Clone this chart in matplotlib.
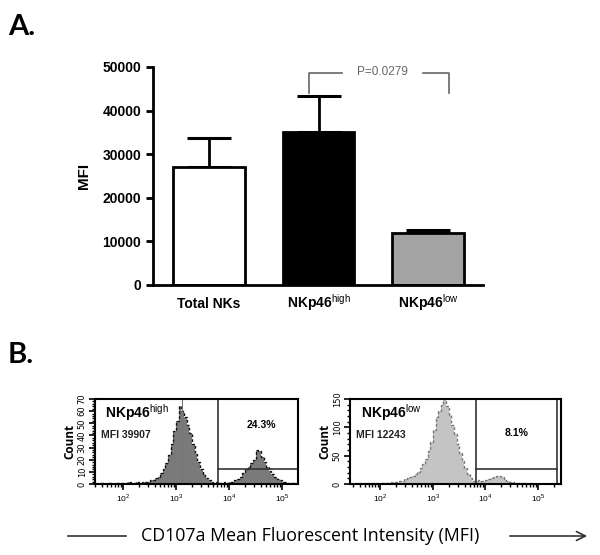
import numpy as np
import matplotlib
matplotlib.use("Agg")
import matplotlib.pyplot as plt
import matplotlib.transforms as mtrans

plt.rcParams['mathtext.fontset'] = 'custom'
plt.rcParams['mathtext.rm'] = 'Liberation Sans'
plt.rcParams['mathtext.bf'] = 'Liberation Sans:bold'

# panel A data
groups = ['Total NKs', r'NKp46$^{\rm high}$', r'NKp46$^{\rm low}$']
mfi_mean = [27000, 35000, 11900]
mfi_err = [6700, 8300, 700]
bar_colors = ['white', 'black', '#a3a3a3']
p_text = 'P=0.0279'

# panel B histograms (counts per log10 bin, bins 0.05 wide from 10^1.45)
hi_counts = [1, 0, 1, 1, 0, 1, 1, 0, 1, 1, 1, 1, 1, 2, 1, 1,
             2, 1, 2, 2, 2, 3, 3, 5, 6, 9, 12, 17, 24, 33, 44, 52, 64, 60, 55, 49,
             42, 33, 25, 18, 12, 8, 5, 3, 2, 1, 2, 1, 1, 2, 1, 2, 2, 3, 4, 6,
             9, 12, 14, 17, 20, 28, 27, 22, 18, 14, 11, 8, 6, 4, 3, 2, 2, 1, 1, 1, 0]
lo_counts = [0, 1, 0, 1, 1, 0, 1, 1, 1, 1, 2, 1, 2, 2, 2, 3,
             3, 4, 5, 6, 8, 10, 12, 15, 18, 22, 28, 35, 45, 58, 75, 95, 118, 128, 140, 150,
             138, 122, 105, 88, 70, 55, 40, 28, 18, 10, 6, 5, 7, 6, 5, 7, 9, 11, 13, 15,
             14, 12, 9, 6, 4, 3, 2, 2, 1, 1, 1, 0, 1, 0, 0, 0, 0, 0, 0, 0, 0]
hi_label = r'NKp46$^{\rm high}$'
lo_label = r'NKp46$^{\rm low}$'
hi_mfi = 'MFI 39907'
lo_mfi = 'MFI 12243'
hi_pct = '24.3%'
lo_pct = '8.1%'

W, H = 600, 555
fig = plt.figure(figsize=(6, 5.55), dpi=100)


def box(l, t, r, b):
    return [l / W, 1 - b / H, (r - l) / W, (b - t) / H]


# ---------------- panel A
ax = fig.add_axes(box(153, 67, 483, 285))
x = np.arange(len(groups))
ax.bar(x, mfi_mean, width=0.655, color=bar_colors, edgecolor='black', linewidth=2, zorder=2)
ax.errorbar(x, mfi_mean, yerr=[np.zeros(3), mfi_err], fmt='none', ecolor='black',
            elinewidth=2, capsize=15.5, capthick=2.2, zorder=1)
ax.set_xlim(-0.51, 2.5)
ax.set_ylim(0, 50000)
ax.set_yticks([0, 10000, 20000, 30000, 40000, 50000])
ax.set_xticks(x)
ax.set_xticklabels([])
for s in ['top', 'right']:
    ax.spines[s].set_visible(False)
for s in ['left', 'bottom']:
    ax.spines[s].set_linewidth(2)
ax.tick_params(axis='y', width=2, length=5, labelsize=10)
ax.tick_params(axis='x', length=0)
for lab in ax.get_yticklabels():
    lab.set_fontweight('bold')
    lab.set_family('Liberation Sans')
tr = mtrans.blended_transform_factory(ax.transData, ax.transAxes)
for xi, g in zip(x, groups):
    ax.text(xi, -0.105, g, transform=tr, ha='center', va='baseline', fontsize=10,
            fontweight='bold', family='Liberation Sans')
ax.set_ylabel('MFI', fontsize=11, fontweight='bold', family='Liberation Sans', labelpad=8)

# significance bracket
bc = '#666666'
ax.plot([0.917, 0.917, 1.21], [44000, 48600, 48600], color=bc, lw=1.2, clip_on=False)
ax.plot([1.95, 2.19, 2.19], [48600, 48600, 44000], color=bc, lw=1.2, clip_on=False)
ax.text(1.58, 48800, p_text, ha='center', va='center', fontsize=8.5, color=bc,
        family='Liberation Sans')

fig.text(8 / W, 1 - 27 / H, 'A.', fontsize=21, fontweight='bold', family='Lato', va='center')
fig.text(8 / W, 1 - 355 / H, 'B.', fontsize=21, fontweight='bold', family='Lato', va='center')

# ---------------- panel B
def histpanel(rect, counts, xlo, xhi, ymax, ymaj, ymin, fill, edge, label, mfi, pct,
              gate_x, gate_y, right_line, peak_line, pct_xy):
    a = fig.add_axes(rect)
    edges = 10 ** (1.45 + 0.05 * np.arange(len(counts) + 1))
    a.stairs(counts, edges, fill=True, color=fill, zorder=1)
    a.stairs(counts, edges, color=edge, lw=1.0, ls=(0, (2, 1.5)), zorder=2)
    a.set_xscale('log')
    a.set_xlim(10 ** xlo, 10 ** xhi)
    a.set_ylim(0, ymax)
    a.set_xticks([1e2, 1e3, 1e4, 1e5])
    a.set_xticklabels([r'$10^2$', r'$10^3$', r'$10^4$', r'$10^5$'])
    a.set_yticks(np.arange(0, ymax + 1, ymaj))
    a.set_yticks(np.arange(0, ymax + 1, ymin), minor=True)
    for lab in a.get_yticklabels():
        lab.set_rotation(90)
        lab.set_va('center')
    a.tick_params(axis='both', which='major', length=4, width=1.2, labelsize=6, pad=2)
    a.tick_params(axis='both', which='minor', length=2.5, width=1)
    for s in a.spines.values():
        s.set_linewidth(1.5)
    a.set_ylabel('Count', fontsize=8.5, labelpad=1, family='Open Sans', fontweight='bold')
    a.axvline(10 ** gate_x, color='#333333', lw=1.2)
    a.plot([10 ** gate_x, 10 ** right_line], [gate_y, gate_y], color='#333333', lw=1.2)
    if right_line < xhi - 0.01:
        a.axvline(10 ** right_line, color='#333333', lw=1.2)
    if peak_line is not None:
        a.axvline(10 ** peak_line, color='#777777', lw=0.8)
    a.text(0.05, 0.84, label, transform=a.transAxes, fontsize=10, fontweight='bold',
           family='Liberation Sans', va='center')
    a.text(0.03, 0.58, mfi, transform=a.transAxes, fontsize=7.5, fontweight='bold',
           family='Liberation Sans', va='center', color='#222222')
    a.text(pct_xy[0], pct_xy[1], pct, transform=a.transAxes, fontsize=7.5, fontweight='bold',
           family='Liberation Sans', ha='center', va='center')
    return a


histpanel(box(95, 399, 298, 484), hi_counts, 1.47, 5.3, 70, 10, 2, '#7a7a7a', '#111111',
          hi_label, hi_mfi, hi_pct, 3.8, 12, 5.3, 3.11, (0.82, 0.7))
histpanel(box(350, 399, 561, 484), lo_counts, 1.42, 5.44, 150, 50, 10, '#c4c4c4', '#777777',
          lo_label, lo_mfi, lo_pct, 3.83, 26, 5.37, None, (0.79, 0.6))

# bottom axis caption with arrow
yb = 1 - 536 / H
fig.text(0.517, yb, 'CD107a Mean Fluorescent Intensity (MFI)', fontsize=12.8,
         family='Open Sans', ha='center', va='center')
fig.add_artist(plt.Line2D([68 / W, 126 / W], [yb, yb], color='#333333', lw=1.2))
fig.add_artist(matplotlib.patches.FancyArrowPatch((507 / W, yb), (590 / W, yb),
                                                  transform=fig.transFigure,
                                                  arrowstyle='->', mutation_scale=16,
                                                  color='#333333', lw=1.2))

fig.savefig('out.png', dpi=100)
